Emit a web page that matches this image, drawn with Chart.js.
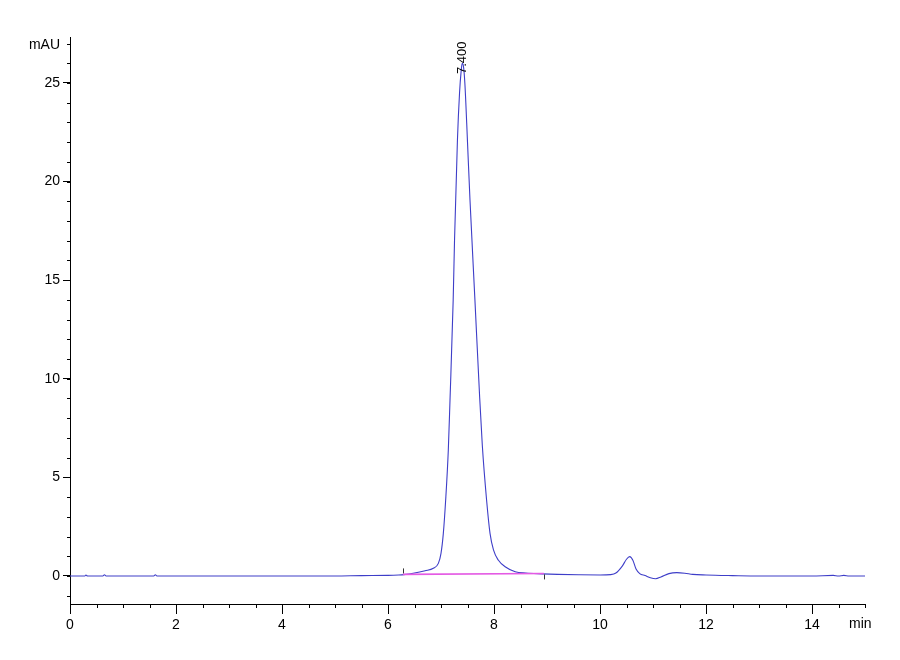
<!DOCTYPE html>
<html>
<head>
<meta charset="utf-8">
<script src="https://cdn.jsdelivr.net/npm/chart.js@4.4.1/dist/chart.umd.min.js"></script>
<style>
  html, body { margin: 0; padding: 0; background: #fff; }
  #wrap { width: 900px; height: 660px; }
</style>
</head>
<body>
<div id="wrap"><canvas id="chart" width="900" height="660"></canvas></div>
<script>
// signal (min / mAU)
var times = [0, 0.28, 0.3, 0.33, 0.62, 0.65, 0.68, 1.58, 1.61, 1.64, 3.0, 4.0, 5.0, 5.5, 6.0, 6.2, 6.3,
  6.5, 6.7, 6.855, 6.95, 7.0, 7.044, 7.088, 7.138, 7.17, 7.23, 7.255, 7.31, 7.35, 7.38, 7.40, 7.42, 7.45,
  7.50, 7.547, 7.64, 7.725, 7.78, 7.86, 7.925, 7.99, 8.08, 8.21, 8.40, 8.6, 8.9, 9.2, 9.6, 10.0, 10.2,
  10.3, 10.42, 10.5, 10.56, 10.62, 10.68, 10.75, 10.85, 10.95, 11.05, 11.15, 11.3, 11.45, 11.6,
  11.75, 12.0, 12.5, 13.0, 14.0, 14.4, 14.5, 14.6, 14.7, 15.0];
var signal = [0, 0, 0.05, 0, 0, 0.06, 0, 0, 0.06, 0, 0, 0, 0, 0.02, 0.03, 0.05, 0.07,
  0.15, 0.27, 0.39, 0.64, 1.15, 2.16, 3.85, 6.39, 8.92, 14.0, 17.0, 22.1, 24.5, 25.6, 26.0, 25.9, 25.0,
  22.0, 19.06, 14.0, 9.3, 6.6, 3.85, 2.16, 1.32, 0.81, 0.47, 0.22, 0.15, 0.11, 0.08, 0.06, 0.05, 0.07,
  0.15, 0.5, 0.85, 0.98, 0.8, 0.35, 0.12, 0.02, -0.09, -0.14, -0.05, 0.12, 0.17, 0.14,
  0.08, 0.05, 0.02, 0, 0, 0.03, 0, 0.03, 0, 0];

// integration baseline of the main peak
var baseTimes = [6.28, 8.94];
var baseValues = [0.08, 0.13];

// peak annotation
var peakTimes = [7.40];
var peakLabels = ['7.400'];

var xTicks = [0, 2, 4, 6, 8, 10, 12, 14];
var yTicks = [0, 5, 10, 15, 20, 25];

var FONT = "'Liberation Sans Narrow', 'Liberation Sans', Arial, sans-serif";

function toPoints(xs, ys) {
  return xs.map(function (x, i) { return { x: x, y: ys[i] }; });
}

// minor ticks + unit labels + peak label
var decorPlugin = {
  id: 'decor',
  afterDraw: function (chart) {
    var ctx = chart.ctx;
    var xs = chart.scales.x, ys = chart.scales.y;
    var area = chart.chartArea;
    ctx.save();
    ctx.strokeStyle = '#000';
    ctx.lineWidth = 1;
    ctx.beginPath();
    for (var t = 0; t <= 15.001; t += 0.5) {
      var px = Math.round(xs.getPixelForValue(t)) + 0.5;
      ctx.moveTo(px, area.bottom);
      ctx.lineTo(px, area.bottom + 4);
    }
    for (var v = -1; v <= 27; v += 1) {
      var py = Math.round(ys.getPixelForValue(v)) + 0.5;
      ctx.moveTo(area.left, py);
      ctx.lineTo(area.left - 3, py);
    }
    ctx.stroke();

    ctx.fillStyle = '#000';
    ctx.font = '14px ' + FONT;
    ctx.textBaseline = 'middle';
    ctx.textAlign = 'right';
    ctx.fillText('mAU', 60, 45);
    ctx.textAlign = 'left';
    ctx.fillText('min', 849, 624);

    // peak label, rotated
    ctx.font = '13px ' + FONT;
    peakTimes.forEach(function (pt, i) {
      var px = xs.getPixelForValue(pt);
      ctx.save();
      ctx.translate(px + 0.5, 74);
      ctx.rotate(-Math.PI / 2);
      ctx.textAlign = 'left';
      ctx.textBaseline = 'middle';
      ctx.fillText(peakLabels[i], 0, 0);
      ctx.restore();
    });

    // small markers at baseline ends
    ctx.strokeStyle = '#333';
    ctx.beginPath();
    var bx0 = Math.round(xs.getPixelForValue(baseTimes[0])) + 0.5;
    var by0 = ys.getPixelForValue(baseValues[0]);
    ctx.moveTo(bx0, by0 - 6); ctx.lineTo(bx0, by0 - 1);
    var bx1 = Math.round(xs.getPixelForValue(baseTimes[1])) + 0.5;
    var by1 = ys.getPixelForValue(baseValues[1]);
    ctx.moveTo(bx1, by1 + 1); ctx.lineTo(bx1, by1 + 6);
    ctx.stroke();
    ctx.restore();
  }
};

var ctx = document.getElementById('chart').getContext('2d');
new Chart(ctx, {
  type: 'line',
  data: {
    datasets: [
      {
        data: toPoints(baseTimes, baseValues),
        borderColor: 'rgb(228, 90, 228)',
        borderWidth: 1.6,
        pointRadius: 0,
        fill: false
      },
      {
        data: toPoints(times, signal),
        borderColor: 'rgb(62, 62, 200)',
        borderWidth: 1.1,
        pointRadius: 0,
        cubicInterpolationMode: 'monotone',
        fill: false
      }
    ]
  },
  options: {
    responsive: false,
    animation: false,
    layout: { padding: { left: 0, right: 35, top: 37, bottom: 0 } },
    plugins: { legend: { display: false }, tooltip: { enabled: false } },
    scales: {
      x: {
        type: 'linear',
        min: 0,
        max: 15,
        afterBuildTicks: function (scale) {
          scale.ticks = xTicks.map(function (v) { return { value: v }; });
        },
        afterFit: function (scale) { scale.height = 56; },
        grid: { display: true, drawOnChartArea: false, drawTicks: true, tickLength: 10, color: '#000' },
        border: { display: true, color: '#000', width: 1 },
        ticks: { color: '#000', padding: 3, maxRotation: 0, font: { family: FONT, size: 14 } }
      },
      y: {
        type: 'linear',
        min: -1.42,
        max: 27.33,
        afterBuildTicks: function (scale) {
          scale.ticks = yTicks.map(function (v) { return { value: v }; });
        },
        afterFit: function (scale) { scale.width = 70; },
        grid: { display: true, drawOnChartArea: false, drawTicks: true, tickLength: 7, color: '#000' },
        border: { display: true, color: '#000', width: 1 },
        ticks: { color: '#000', padding: 3, font: { family: FONT, size: 14 } }
      }
    }
  },
  plugins: [decorPlugin]
});
</script>
</body>
</html>
